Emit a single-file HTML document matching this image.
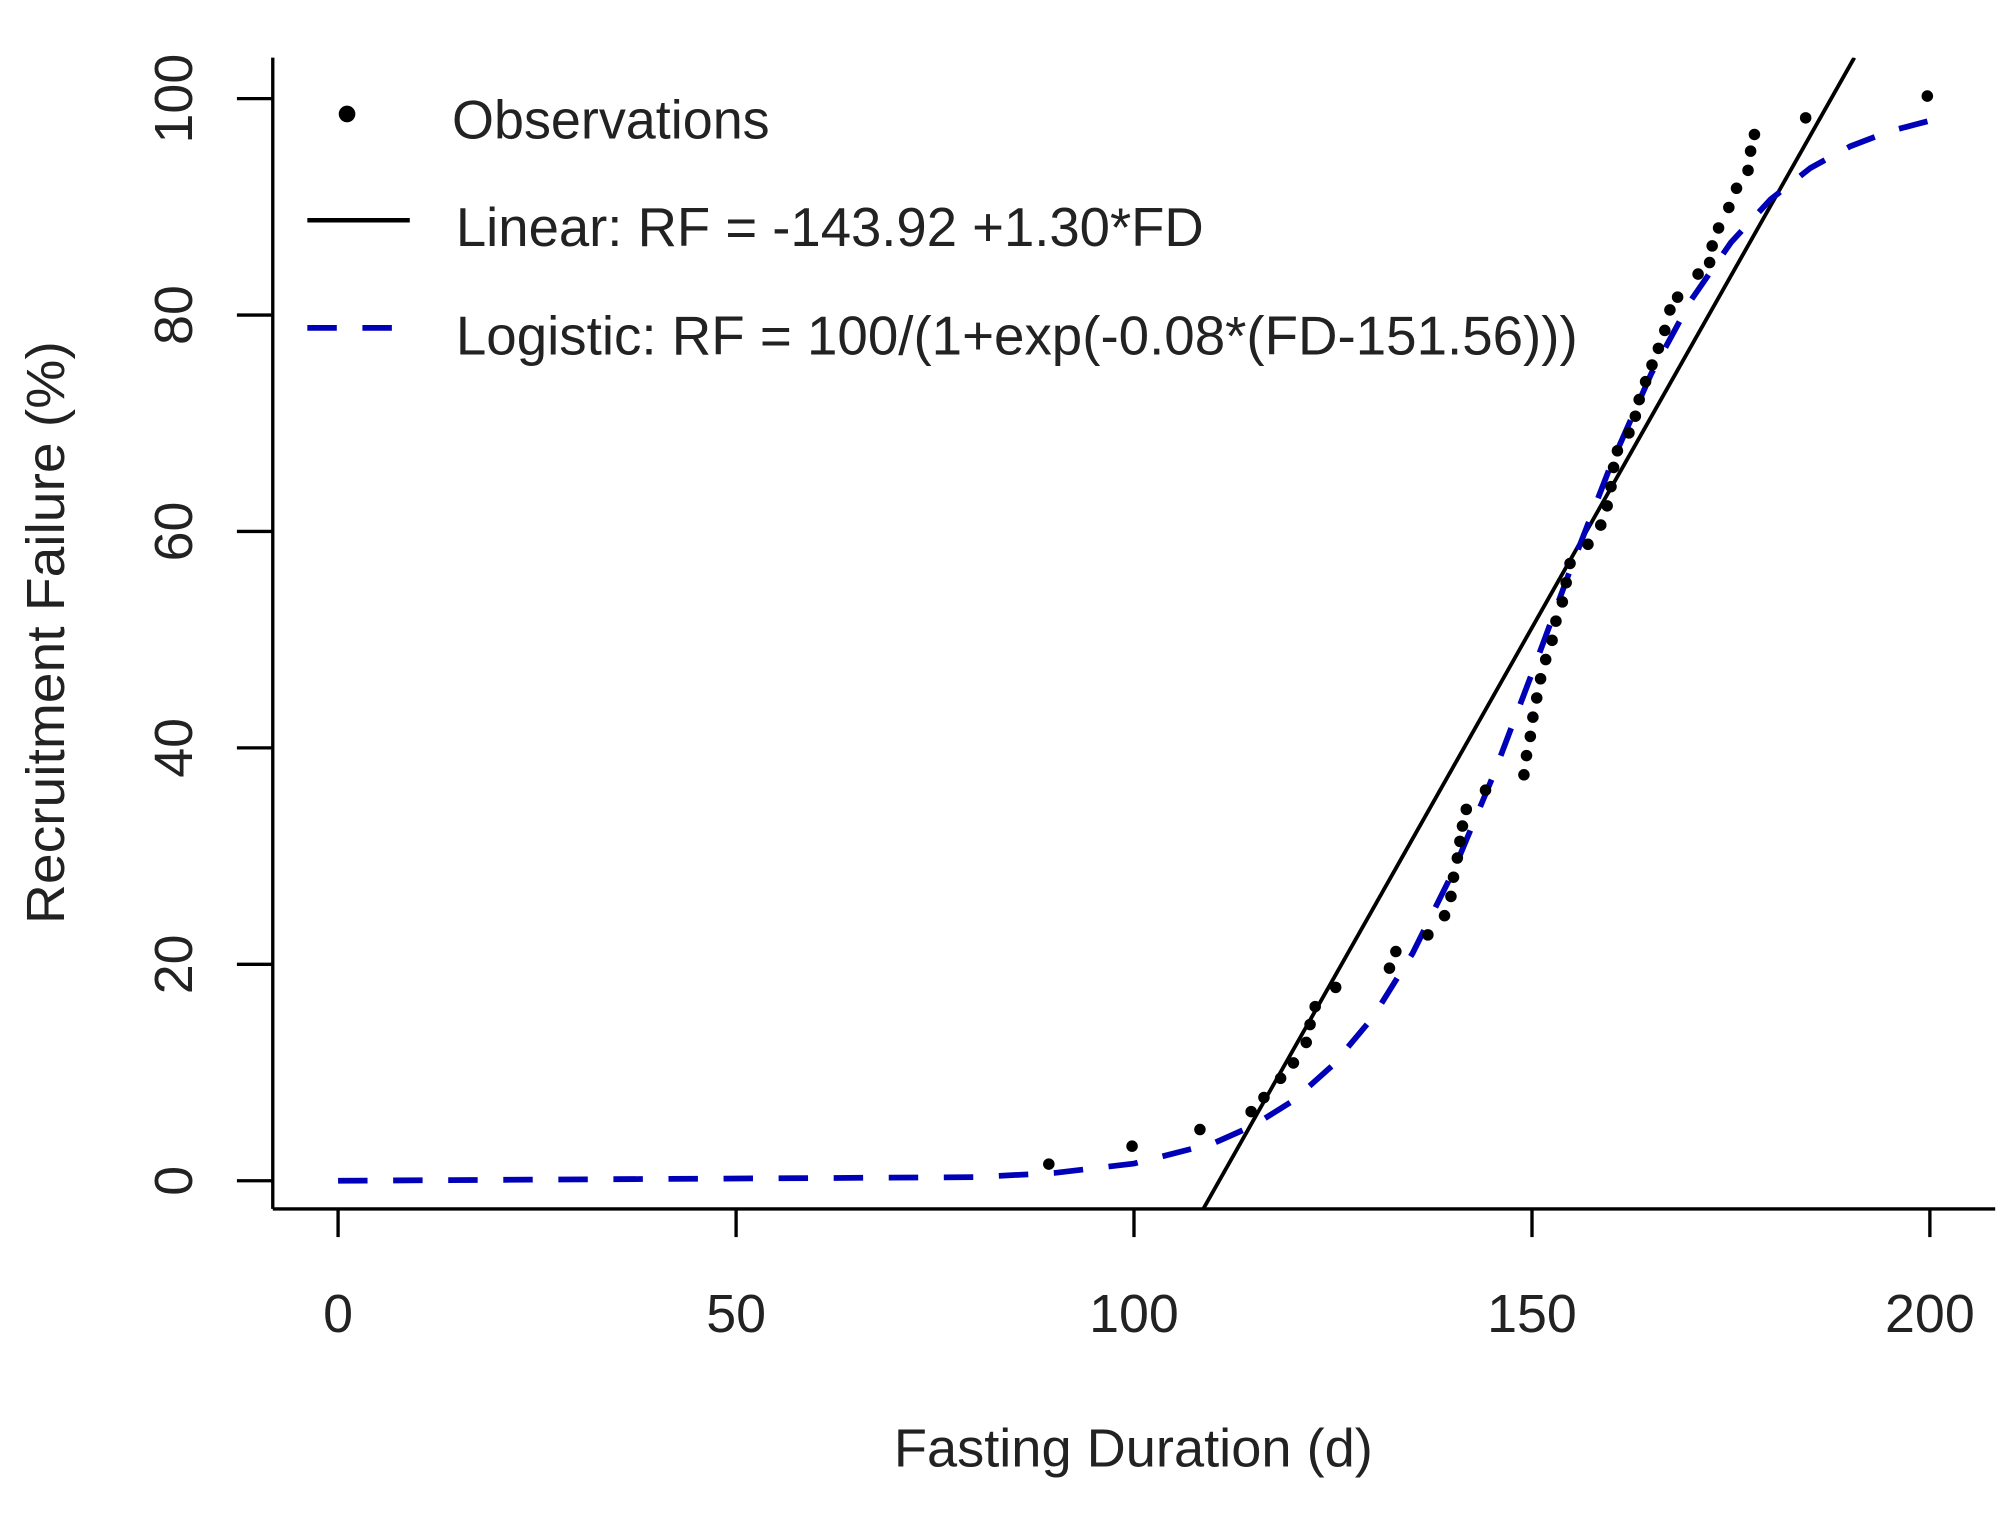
<!DOCTYPE html>
<html><head><meta charset="utf-8"><style>
html,body{margin:0;padding:0;background:#fff;}
svg{display:block;}
text{font-family:"Liberation Sans",Arial,sans-serif;fill:#222;}
</style></head><body>
<svg width="2008" height="1515" viewBox="0 0 1568 1183" xmlns="http://www.w3.org/2000/svg">
<rect width="1568" height="1183" fill="#fff"/>
<defs><clipPath id="pc"><rect x="213" y="45" width="1345" height="899"/></clipPath></defs>
<g stroke="#000" stroke-width="2.6" fill="none">
<line x1="213" y1="45" x2="213" y2="944"/>
<line x1="213" y1="944" x2="1558" y2="944"/>
<line x1="185" y1="77" x2="213" y2="77"/>
<line x1="185" y1="246" x2="213" y2="246"/>
<line x1="185" y1="415" x2="213" y2="415"/>
<line x1="185" y1="584" x2="213" y2="584"/>
<line x1="185" y1="753" x2="213" y2="753"/>
<line x1="185" y1="922" x2="213" y2="922"/>
<line x1="264" y1="944" x2="264" y2="966"/>
<line x1="574.8" y1="944" x2="574.8" y2="966"/>
<line x1="885.5" y1="944" x2="885.5" y2="966"/>
<line x1="1196.3" y1="944" x2="1196.3" y2="966"/>
<line x1="1507" y1="944" x2="1507" y2="966"/>
</g>
<g font-size="42" text-anchor="middle">
<text transform="translate(150,77) rotate(-90)">100</text>
<text transform="translate(150,246) rotate(-90)">80</text>
<text transform="translate(150,415) rotate(-90)">60</text>
<text transform="translate(150,584) rotate(-90)">40</text>
<text transform="translate(150,753) rotate(-90)">20</text>
<text transform="translate(150,922) rotate(-90)">0</text>
<text x="264" y="1040">0</text>
<text x="574.8" y="1040">50</text>
<text x="885.5" y="1040">100</text>
<text x="1196.3" y="1040">150</text>
<text x="1507" y="1040">200</text>
<text x="885" y="1145" textLength="374" lengthAdjust="spacingAndGlyphs">Fasting Duration (d)</text>
<text transform="translate(50,494) rotate(-90)" textLength="455" lengthAdjust="spacingAndGlyphs">Recruitment Failure (%)</text>
</g>
<circle cx="271" cy="89" r="6.5" fill="#000"/>
<text x="353" y="108" font-size="43" textLength="248" lengthAdjust="spacingAndGlyphs">Observations</text>
<line x1="240" y1="172" x2="320" y2="172" stroke="#000" stroke-width="3.5"/>
<text x="356" y="192" font-size="43" textLength="584" lengthAdjust="spacingAndGlyphs">Linear: RF = -143.92 +1.30*FD</text>
<line x1="240" y1="256" x2="320" y2="256" stroke="#0000b8" stroke-width="4.5" stroke-dasharray="23 20"/>
<text x="356" y="277" font-size="43" textLength="876" lengthAdjust="spacingAndGlyphs">Logistic: RF = 100/(1+exp(-0.08*(FD-151.56)))</text>
<g clip-path="url(#pc)">
<line x1="939.6" y1="944" x2="1448" y2="45" stroke="#000" stroke-width="3"/>
<polyline fill="none" stroke="#0000b8" stroke-width="4.5" stroke-dasharray="23 20" points="264,922 761.2,919.2 823.4,915.9 885.5,908.6 947.7,892.7 978.7,878.9 1009.8,859.5 1040.9,831.6 1072,794.4 1103,744.5 1134.1,682 1165.2,607.7 1196.3,525.7 1227.3,442 1258.4,361.8 1289.5,291.6 1320.6,234.2 1351.6,189.4 1382.7,155.6 1413.8,131.1 1444.9,114.2 1475.9,102.4 1507,94.2"/>
<g fill="#000">
<circle cx="819" cy="909" r="4.5"/><circle cx="884" cy="895" r="4.5"/><circle cx="937" cy="882" r="4.5"/>
<circle cx="977" cy="868" r="4.5"/><circle cx="987" cy="857" r="4.5"/><circle cx="1000" cy="842" r="4.5"/>
<circle cx="1010" cy="830" r="4.5"/><circle cx="1020" cy="814" r="4.5"/><circle cx="1023" cy="800" r="4.5"/>
<circle cx="1027" cy="786" r="4.5"/><circle cx="1043" cy="771" r="4.5"/><circle cx="1085" cy="756" r="4.5"/>
<circle cx="1090" cy="743" r="4.5"/><circle cx="1115" cy="730" r="4.5"/><circle cx="1128" cy="715" r="4.5"/>
<circle cx="1133" cy="700" r="4.5"/><circle cx="1135" cy="685" r="4.5"/><circle cx="1138" cy="670" r="4.5"/>
<circle cx="1140" cy="657" r="4.5"/><circle cx="1142" cy="645" r="4.5"/><circle cx="1145" cy="632" r="4.5"/>
<circle cx="1160" cy="617" r="4.5"/><circle cx="1190" cy="605" r="4.5"/><circle cx="1192" cy="590" r="4.5"/>
<circle cx="1195" cy="575" r="4.5"/><circle cx="1197" cy="560" r="4.5"/><circle cx="1200" cy="545" r="4.5"/>
<circle cx="1203" cy="530" r="4.5"/><circle cx="1207" cy="515" r="4.5"/><circle cx="1212" cy="500" r="4.5"/>
<circle cx="1215" cy="485" r="4.5"/><circle cx="1220" cy="470" r="4.5"/><circle cx="1223" cy="455" r="4.5"/>
<circle cx="1226" cy="440" r="4.5"/><circle cx="1240" cy="425" r="4.5"/><circle cx="1250" cy="410" r="4.5"/>
<circle cx="1255" cy="395" r="4.5"/><circle cx="1258" cy="380" r="4.5"/><circle cx="1260" cy="365" r="4.5"/>
<circle cx="1263" cy="352" r="4.5"/><circle cx="1272" cy="338" r="4.5"/><circle cx="1277" cy="325" r="4.5"/>
<circle cx="1280" cy="312" r="4.5"/><circle cx="1285" cy="298" r="4.5"/><circle cx="1290" cy="285" r="4.5"/>
<circle cx="1295" cy="272" r="4.5"/><circle cx="1300" cy="258" r="4.5"/><circle cx="1304" cy="242" r="4.5"/>
<circle cx="1310" cy="232" r="4.5"/><circle cx="1326" cy="214" r="4.5"/><circle cx="1335" cy="205" r="4.5"/>
<circle cx="1337" cy="192" r="4.5"/><circle cx="1342" cy="178" r="4.5"/><circle cx="1350" cy="162" r="4.5"/>
<circle cx="1356" cy="147" r="4.5"/><circle cx="1365" cy="133" r="4.5"/><circle cx="1367" cy="118" r="4.5"/>
<circle cx="1370" cy="105" r="4.5"/><circle cx="1410" cy="92" r="4.5"/><circle cx="1505" cy="75" r="4.5"/>
</g>
</g>
</svg>
</body></html>
